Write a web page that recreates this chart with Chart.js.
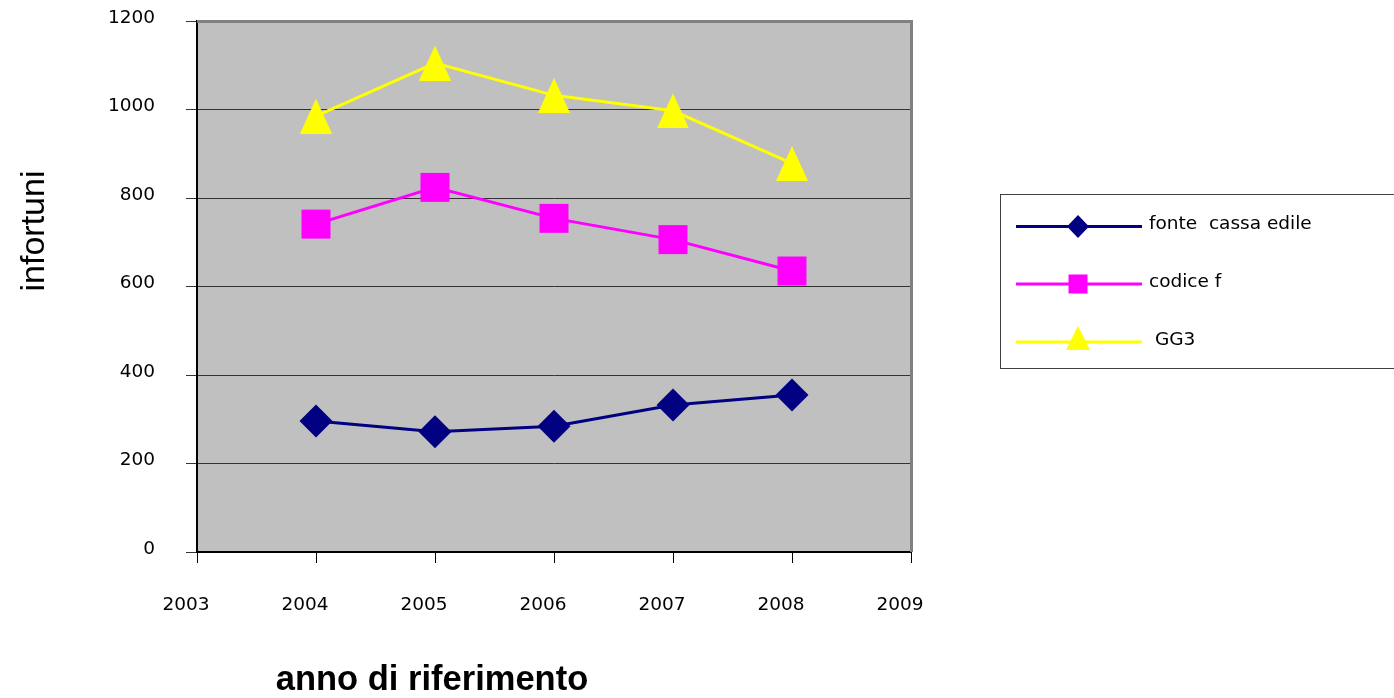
<!DOCTYPE html>
<html>
<head>
<meta charset="utf-8">
<script src="https://cdn.jsdelivr.net/npm/chart.js@4.4.1/dist/chart.umd.min.js"></script>
<style>
  html, body { margin: 0; padding: 0; background: #ffffff; }
  #wrap { width: 1394px; height: 698px; position: relative; }
</style>
</head>
<body>
<div id="wrap"><canvas id="c" width="1394" height="698"></canvas></div>
<script>
// ---- data ----
const years = [2004, 2005, 2006, 2007, 2008];
const fonteCassaEdile = [296, 272, 284, 332, 355];
const codiceF = [741, 824, 754, 706, 635];
const gg3 = [985, 1105, 1032, 997, 878];
const seriesLabels = ['fonte  cassa edile', 'codice f', ' GG3'];
const xAxisTitle = 'anno di riferimento';
const yAxisTitle = 'infortuni';
const xMin = 2003, xMax = 2009;
const yMin = 0, yMax = 1200, yStep = 200;

// ---- styles ----
const NAVY = '#000080', MAGENTA = '#FF00FF', YELLOW = '#FFFF00';

function makeTriangle(w, h, color) {
  const cv = document.createElement('canvas');
  cv.width = w; cv.height = h;
  const g = cv.getContext('2d');
  g.fillStyle = color;
  g.beginPath();
  g.moveTo(w / 2, 0);
  g.lineTo(w, h);
  g.lineTo(0, h);
  g.closePath();
  g.fill();
  return cv;
}
const triBig = makeTriangle(32, 35, YELLOW);

function pts(vals) { return years.map((y, i) => ({ x: y, y: vals[i] })); }

const bgPlugin = {
  id: 'bg',
  beforeDraw(chart) {
    const { ctx, chartArea: a } = chart;
    ctx.save();
    ctx.fillStyle = '#C0C0C0';
    ctx.fillRect(a.left, a.top, a.right - a.left, a.bottom - a.top);
    ctx.restore();
  },
  beforeDatasetsDraw(chart) {
    const { ctx, chartArea: a } = chart;
    ctx.save();
    ctx.strokeStyle = '#808080';
    ctx.lineWidth = 3;
    ctx.beginPath();
    ctx.moveTo(a.left, a.top + 0.5);
    ctx.lineTo(a.right + 0.5, a.top + 0.5);
    ctx.lineTo(a.right + 0.5, a.bottom);
    ctx.stroke();
    ctx.restore();
  },
  afterDraw(chart) {
    const { ctx } = chart;
    ctx.save();
    // axis titles
    ctx.fillStyle = '#000';
    ctx.font = 'bold 34.5px "Liberation Sans", Arial, sans-serif';
    ctx.textAlign = 'center';
    ctx.textBaseline = 'alphabetic';
    ctx.fillText(xAxisTitle, 432, 690);
    ctx.save();
    ctx.translate(44, 231);
    ctx.rotate(-Math.PI / 2);
    ctx.font = '34px "Liberation Sans", Arial, sans-serif';
    ctx.fillText(yAxisTitle, 0, 0);
    ctx.restore();

    // legend
    const L = { x: 1000.5, y: 194.5, w: 500, h: 174 };
    ctx.strokeStyle = '#404040';
    ctx.lineWidth = 1;
    ctx.strokeRect(L.x, L.y, L.w, L.h);
    const rows = [226.5, 284, 342];
    chart.data.datasets.forEach((ds, i) => {
      const y = rows[i];
      ctx.strokeStyle = ds.borderColor;
      ctx.lineWidth = 3;
      ctx.beginPath();
      ctx.moveTo(1016, y);
      ctx.lineTo(1142, y);
      ctx.stroke();
      ctx.fillStyle = ds.backgroundColor;
      const cx = 1078;
      ctx.beginPath();
      if (i === 0) {
        ctx.moveTo(cx, y - 11.5); ctx.lineTo(cx + 11, y); ctx.lineTo(cx, y + 11.5); ctx.lineTo(cx - 11, y);
      } else if (i === 1) {
        ctx.rect(cx - 9.5, y - 9.5, 19, 19);
      } else {
        ctx.moveTo(cx, y - 16); ctx.lineTo(cx + 12, y + 8); ctx.lineTo(cx - 12, y + 8);
      }
      ctx.closePath();
      ctx.fill();
      ctx.fillStyle = '#000';
      ctx.font = '18.5px "DejaVu Sans", sans-serif';
      ctx.textAlign = 'left';
      ctx.textBaseline = 'middle';
      ctx.fillText(ds.label, 1149, y - 2);
    });
    ctx.restore();
  }
};

new Chart(document.getElementById('c'), {
  type: 'line',
  data: {
    datasets: [
      { label: seriesLabels[0], data: pts(fonteCassaEdile), borderColor: NAVY, backgroundColor: NAVY,
        borderWidth: 3, pointStyle: 'rectRot', pointRadius: 16.5, pointBorderWidth: 0 },
      { label: seriesLabels[1], data: pts(codiceF), borderColor: MAGENTA, backgroundColor: MAGENTA,
        borderWidth: 3, pointStyle: 'rect', pointRadius: 20.5, pointBorderWidth: 0 },
      { label: seriesLabels[2], data: pts(gg3), borderColor: YELLOW, backgroundColor: YELLOW,
        borderWidth: 3, pointStyle: triBig, pointRadius: 17, pointBorderWidth: 0 }
    ]
  },
  options: {
    responsive: false,
    animation: false,
    events: [],
    layout: { padding: { top: 21, right: 1394 - 911, left: 0, bottom: 0 } },
    plugins: { legend: { display: false }, tooltip: { enabled: false } },
    elements: { line: { tension: 0 } },
    scales: {
      x: {
        type: 'linear', min: xMin, max: xMax,
        afterFit(s) { s.height = 698 - 552; s.paddingLeft = 0; s.paddingRight = 0; },
        ticks: { stepSize: 1, color: '#000', padding: 31, labelOffset: -11,
          font: { family: '"DejaVu Sans", sans-serif', size: 18.5 },
          callback: v => String(v), maxRotation: 0 },
        grid: { drawOnChartArea: false, tickLength: 11, color: '#000', lineWidth: 1 },
        border: { color: '#000', width: 2 }
      },
      y: {
        type: 'linear', min: yMin, max: yMax,
        afterFit(s) { s.width = 197; s.paddingTop = 0; s.paddingBottom = 0; },
        ticks: { stepSize: yStep, color: '#000', padding: 31, labelOffset: -3,
          callback: v => String(v),
          font: { family: '"DejaVu Sans", sans-serif', size: 18.5 } },
        grid: { color: '#333', lineWidth: 1, tickLength: 11 },
        border: { color: '#000', width: 2 }
      }
    }
  },
  plugins: [bgPlugin]
});
</script>
</body>
</html>
